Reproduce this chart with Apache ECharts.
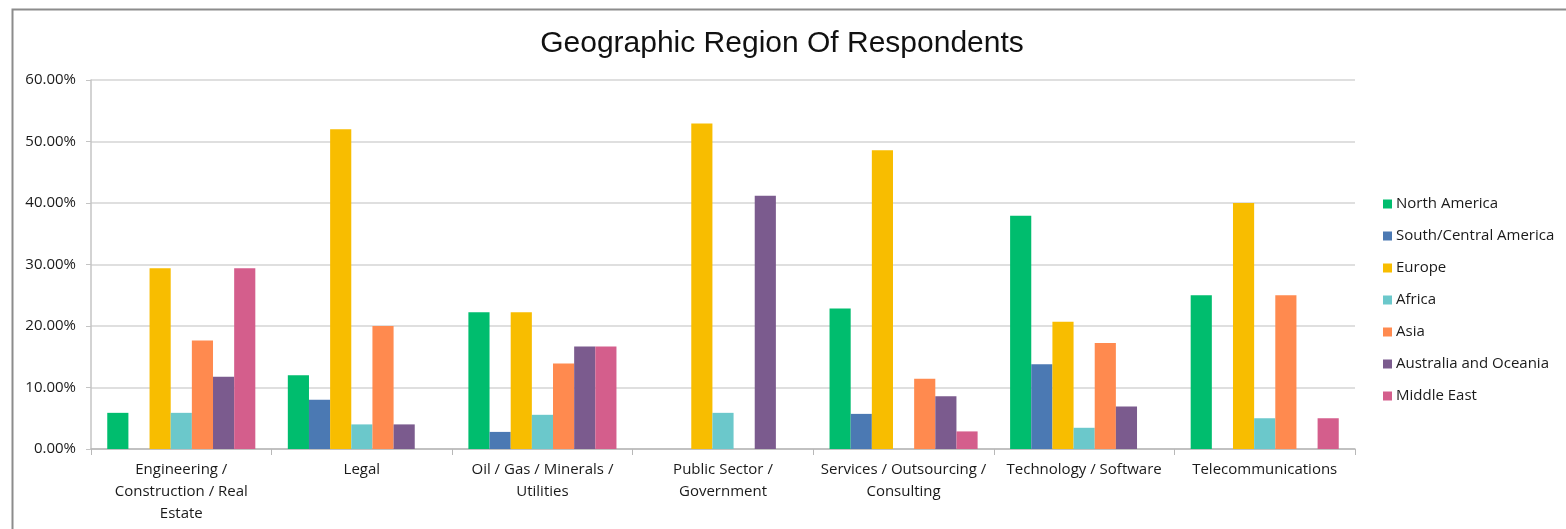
<!DOCTYPE html>
<html><head><meta charset="utf-8">
<script src="https://cdn.jsdelivr.net/npm/echarts@6/dist/echarts.min.js"></script>
<style>html,body{margin:0;padding:0;background:#fff}#c{width:1566px;height:529px}</style>
</head><body><div id="c"></div>
<script>
const categories = ['Engineering /\nConstruction / Real\nEstate','Legal','Oil / Gas / Minerals /\nUtilities','Public Sector /\nGovernment','Services / Outsourcing /\nConsulting','Technology / Software','Telecommunications'];
const seriesNames = ['North America','South/Central America','Europe','Africa','Asia','Australia and Oceania','Middle East'];
const seriesColors = ['#00BD6E','#4B79B3','#F8BD00','#6BC8CB','#FF8A4F','#7B5B8E','#D45E8C'];
const northAmerica = [5.88, 12.00, 22.22, 0, 22.86, 37.93, 25.00];
const southCentralAmerica = [0, 8.00, 2.78, 0, 5.71, 13.79, 0];
const europe = [29.41, 52.00, 22.22, 52.94, 48.57, 20.69, 40.00];
const africa = [5.88, 4.00, 5.56, 5.88, 0, 3.45, 5.00];
const asia = [17.65, 20.00, 13.89, 0, 11.43, 17.24, 25.00];
const australiaOceania = [11.76, 4.00, 16.67, 41.18, 8.57, 6.90, 0];
const middleEast = [29.41, 0, 16.67, 0, 2.86, 0, 5.00];
const yTicks = [0, 10, 20, 30, 40, 50, 60];

const seriesData = [northAmerica, southCentralAmerica, europe, africa, asia, australiaOceania, middleEast];
const chart = echarts.init(document.getElementById('c'));
const font = '"Open Sans", "Noto Sans", sans-serif';
chart.setOption({
  animation: false,
  backgroundColor: '#fff',
  graphic: [{
    type: 'rect', left: 10, top: 7, z: 0,
    shape: {width: 1600, height: 600},
    style: {fill: 'none', stroke: '#8c8c8c', lineWidth: 2}
  }],
  title: {
    text: 'Geographic Region Of Respondents',
    left: 777, top: 24, textAlign: 'center',
    textStyle: {fontFamily: '"Liberation Sans", Arial, sans-serif', fontSize: 30, fontWeight: 'normal', color: '#111'}
  },
  legend: {
    orient: 'vertical', left: 1378, top: 191, itemGap: 16,
    itemWidth: 9, itemHeight: 9, icon: 'rect',
    data: seriesNames,
    textStyle: {fontFamily: font, fontSize: 15, lineHeight: 16, color: '#1a1a1a', padding: [0,0,0,-1]}
  },
  grid: {left: 91, right: 211, top: 80, bottom: 80},
  xAxis: {
    type: 'category', data: categories,
    axisLine: {lineStyle: {color: '#b8b8b8', width: 1.5}},
    axisTick: {show: true, length: 6, lineStyle: {color: '#b8b8b8'}},
    axisLabel: {fontFamily: font, fontSize: 15, color: '#1a1a1a', lineHeight: 22, margin: 10, interval: 0}
  },
  yAxis: {
    type: 'value', min: 0, max: 60, interval: 10,
    axisLine: {show: true, lineStyle: {color: '#c4c4c4', width: 1.5}},
    axisTick: {show: true, length: 5, lineStyle: {color: '#c4c4c4'}},
    splitLine: {lineStyle: {color: '#d4d4d4', width: 1.5}},
    axisLabel: {fontFamily: font, fontSize: 15, color: '#1a1a1a', margin: 15,
      formatter: v => yTicks.includes(v) ? v.toFixed(2) + '%' : ''}
  },
  series: seriesNames.map((n, i) => ({
    name: n, type: 'bar', data: seriesData[i],
    itemStyle: {color: seriesColors[i]},
    barGap: '0%', barCategoryGap: '18%'
  }))
});
</script></body></html>
